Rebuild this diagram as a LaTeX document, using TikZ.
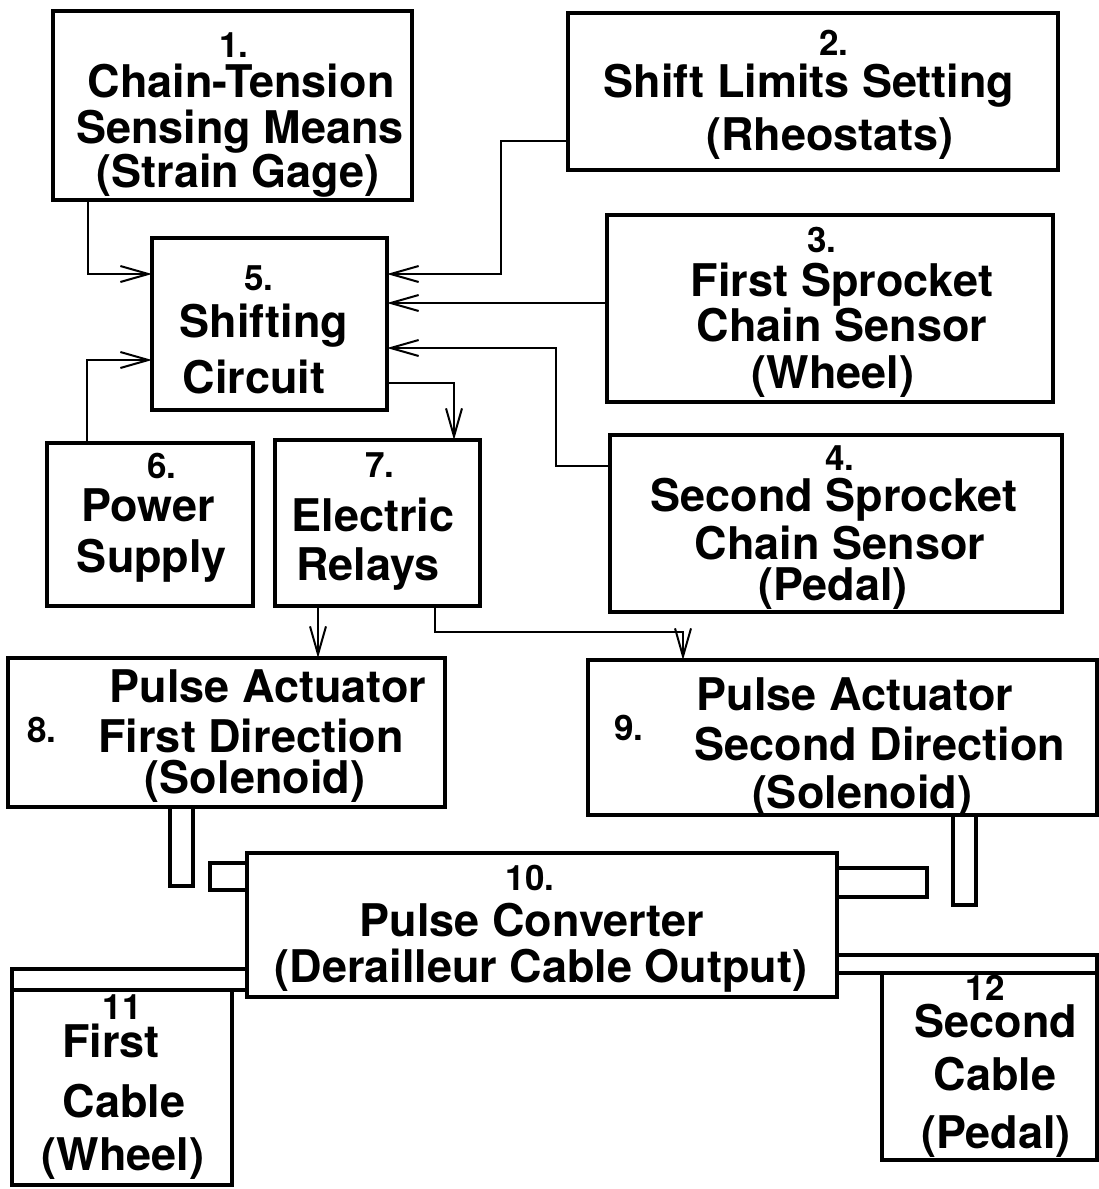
\documentclass[tikz,border=0pt]{standalone}
\usepackage{fontspec}
\setmainfont{TeX Gyre Heros}
\usetikzlibrary{arrows.meta}
\tikzset{
  blk/.style={draw, line width=3.5pt, inner sep=0pt, outer sep=0pt},
  conn/.style={line width=2pt},
  arr/.style={conn, -{Straight Barb[length=28pt,width=16pt,line width=2pt]}},
  bar/.style={line width=3.5pt},
  lbl/.style={font=\fontsize{45}{45}\selectfont\bfseries, anchor=base, inner sep=0pt},
  num/.style={font=\fontsize{35}{35}\selectfont\bfseries, anchor=base, inner sep=0pt},
}
\begin{document}
\begin{tikzpicture}[x=1pt,y=-1pt]
\useasboundingbox (0,0) rectangle (1099,1189);
% boxes
\node[blk, minimum width=359pt, minimum height=189pt] (b1) at (232.5,105.5) {};
\node[blk, minimum width=490pt, minimum height=157pt] (b2) at (813,91.5) {};
\node[blk, minimum width=446pt, minimum height=187pt] (b3) at (830,308.5) {};
\node[blk, minimum width=452pt, minimum height=177pt] (b4) at (836,523.5) {};
\node[blk, minimum width=235pt, minimum height=172pt] (b5) at (269.5,324) {};
\node[blk, minimum width=206pt, minimum height=163pt] (b6) at (150,524.5) {};
\node[blk, minimum width=205pt, minimum height=166pt] (b7) at (377.5,523) {};
\node[blk, minimum width=437pt, minimum height=149pt] (b8) at (226.5,732.5) {};
\node[blk, minimum width=509pt, minimum height=155pt] (b9) at (842.5,737.5) {};
\node[blk, minimum width=590pt, minimum height=144pt] (b10) at (542,925) {};
\node[blk, minimum width=220pt, minimum height=195pt] (b11) at (122,1087.5) {};
\node[blk, minimum width=215pt, minimum height=187pt] (b12) at (989.5,1066.5) {};
% texts
\node[num] (t1a) at (234,57) {1.};
\node[lbl] (t1b) at (241,97) {Chain-Tension};
\node[lbl] (t1c) at (240,143) {Sensing Means};
\node[lbl] (t1d) at (238,187) {(Strain Gage)};
\node[num] (t2a) at (834,55) {2.};
\node[lbl] (t2b) at (809,97) {Shift Limits Setting};
\node[lbl] (t2c) at (830,150) {(Rheostats)};
\node[num] (t3a) at (822,252) {3.};
\node[lbl] (t3b) at (842,296) {First Sprocket};
\node[lbl] (t3c) at (842,341) {Chain Sensor};
\node[lbl] (t3d) at (833,388) {(Wheel)};
\node[num] (t4a) at (840,470) {4.};
\node[lbl] (t4b) at (834,511) {Second Sprocket};
\node[lbl] (t4c) at (840,559) {Chain Sensor};
\node[lbl] (t4d) at (833,600) {(Pedal)};
\node[num] (t5a) at (259,290) {5.};
\node[lbl] (t5b) at (264,337) {Shifting};
\node[lbl] (t5c) at (254,393) {Circuit};
\node[num] (t6a) at (162,478) {6.};
\node[lbl] (t6b) at (148,521) {Power};
\node[lbl] (t6c) at (152,572) {Supply};
\node[num] (t7a) at (380,477) {7.};
\node[lbl] (t7b) at (373,531) {Electric};
\node[lbl] (t7c) at (368,580) {Relays};
\node[num] (t8a) at (42,742) {8.};
\node[lbl] (t8b) at (268,702) {Pulse Actuator};
\node[lbl] (t8c) at (251,752) {First Direction};
\node[lbl] (t8d) at (255,793) {(Solenoid)};
\node[num] (t9a) at (629,740) {9.};
\node[lbl] (t9b) at (855,710) {Pulse Actuator};
\node[lbl] (t9c) at (880,760) {Second Direction};
\node[lbl] (t9d) at (862,808) {(Solenoid)};
\node[num] (t10a) at (530,890) {10.};
\node[lbl] (t10b) at (532,936) {Pulse Converter};
\node[lbl] (t10c) at (541,982) {(Derailleur Cable Output)};
\node[num] (t11a) at (122,1019) {11};
\node[lbl] (t11b) at (111,1057) {First};
\node[lbl] (t11c) at (124,1117) {Cable};
\node[lbl] (t11d) at (123,1170) {(Wheel)};
\node[num] (t12a) at (985,1000) {12};
\node[lbl] (t12b) at (996,1037) {Second};
\node[lbl] (t12c) at (995,1090) {Cable};
\node[lbl] (t12d) at (996,1148) {(Pedal)};
% connectors
\draw[arr] (b1.south -| 88,0) |- (b5.west |- 0,274);
\draw[arr] (b2.west |- 0,141) -| (501,274) -- (b5.east |- 0,274);
\draw[arr] (b3.west |- 0,303) -- (b5.east |- 0,303);
\draw[arr] (b4.west |- 0,466) -| (556,348) -- (b5.east |- 0,348);
\draw[arr] (b6.north -| 87,0) |- (b5.west |- 0,360);
\draw[arr] (b5.east |- 0,383) -| (b7.north -| 454,0);
\draw[arr] (b7.south -| 318,0) -- (b8.north -| 318,0);
\draw[arr] (b7.south -| 435,0) |- (683,632) -- (b9.north -| 683,0);
% bars
\draw[bar] (170,807) rectangle (193,886);
\draw[bar] (210,863) rectangle (247,890);
\draw[bar] (837,868) rectangle (927,897);
\draw[bar] (953,815) rectangle (976,905);
\draw[bar] (12,969) rectangle (247,990);
\draw[bar] (837,955) rectangle (1097,973);
\end{tikzpicture}
\end{document}
